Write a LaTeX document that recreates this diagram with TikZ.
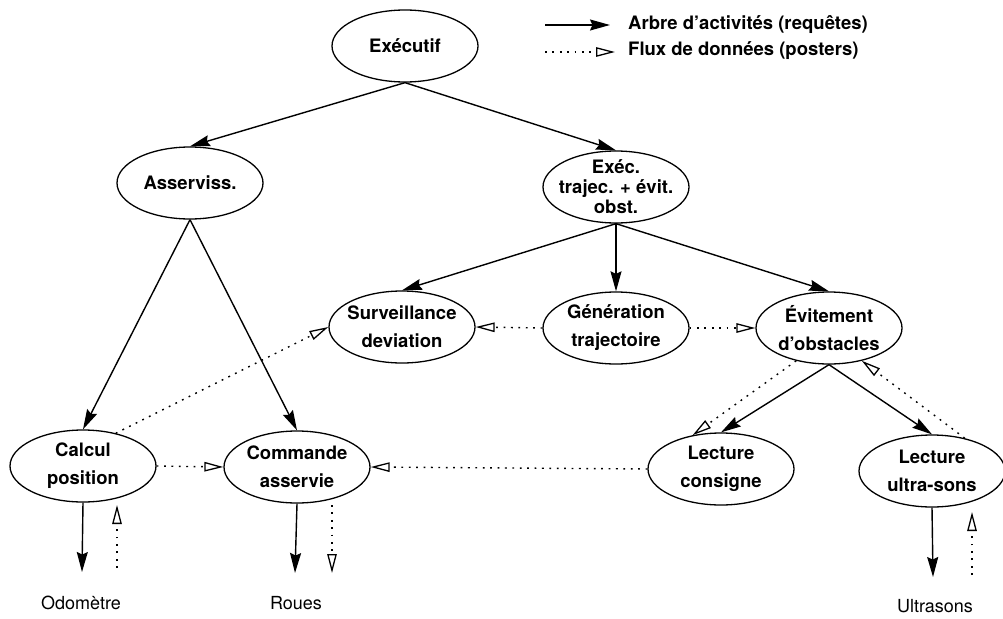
\documentclass[tikz,border=0pt]{standalone}
\usepackage{fontspec}
\setmainfont{TeX Gyre Heros}
\usetikzlibrary{shapes.geometric,arrows.meta}

\tikzset{
  activity/.style={draw, line width=1.3pt, shape=ellipse,
    minimum width=146pt, minimum height=72pt,
    inner xsep=-15pt, inner ysep=-15pt, align=center,
    font=\fontsize{18.5}{22}\selectfont\bfseries},
  device/.style={inner sep=0pt, font=\fontsize{18}{22}\selectfont},
  legendtext/.style={anchor=west, inner sep=0pt,
    font=\fontsize{18.5}{22}\selectfont\bfseries},
  request/.style={line width=1.4pt,
    -{Stealth[length=20pt,width=11pt,inset=2.5pt]}},
  poster/.style={line width=1.4pt, dash pattern=on 1.8pt off 5.6pt,
    -{Triangle[open,length=19pt,width=9.5pt,line width=1.3pt]}},
}

\begin{document}
\begin{tikzpicture}[x=1pt,y=-1pt]
  \useasboundingbox (0,0) rectangle (1003,618);

  % activity tree
  \node[activity] (exec)   at (405,46)  {Exécutif};
  \node[activity] (asserv) at (190,183) {Asserviss.};
  \node[activity] (traj)   at (616,187) {Exéc.\\[-2pt]trajec. + évit.\\[-2pt]obst.};
  \node[activity] (surv)   at (402,327) {Surveillance\\[6pt]deviation};
  \node[activity] (gen)    at (616,328) {Génération\\[6pt]trajectoire};
  \node[activity] (evit)   at (829,328) {Évitement\\[6pt]d'obstacles};
  \node[activity] (calc)   at (83,466)  {Calcul\\[6pt]position};
  \node[activity] (cmd)    at (297,467) {Commande\\[6pt]asservie};
  \node[activity] (lcons)  at (721,469) {Lecture\\[6pt]consigne};
  \node[activity] (lus)    at (932,471) {Lecture\\[6pt]ultra-sons};

  % devices
  \node[device] (odo) at (81,603)  {Odomètre};
  \node[device] (roues) at (296,603) {Roues};
  \node[device] (ultra) at (935,606) {Ultrasons};

  % requests
  \draw[request] (exec.south) -- (asserv.north);
  \draw[request] (exec.south) -- (traj.north);
  \draw[request] (asserv.south) -- (calc.north);
  \draw[request] (asserv.south) -- (cmd.north);
  \draw[request] (traj.south) -- (surv.north);
  \draw[request] (traj.south) -- (gen.north);
  \draw[request] (traj.south) -- (evit.north);
  \draw[request] (evit.south) -- (lcons.north);
  \draw[request] (evit.south) -- (lus.north);

  % posters between activities
  \draw[poster] (calc.45) -- (surv.west);
  \draw[poster] (calc.east) -- (cmd.west);
  \draw[poster] (lcons.west) -- (cmd.east);
  \draw[poster] (gen.west) -- (surv.east);
  \draw[poster] (gen.east) -- (evit.west);
  \draw[poster] (evit.225) -- (lcons.130);
  \draw[poster] (lus.45) -- (evit.315);

  % links with the devices
  \coordinate (odoReq) at (82,572);
  \coordinate (odoOut) at (117,568);
  \coordinate (odoIn)  at (117,505);
  \coordinate (rouReq) at (295,573);
  \coordinate (rouOut) at (332,505);
  \coordinate (rouIn)  at (332,573);
  \coordinate (ultReq) at (933,577);
  \coordinate (ultOut) at (972,575);
  \coordinate (ultIn)  at (972,512);
  \draw[request] (calc.south) -- (odoReq);
  \draw[poster] (odoOut) -- (odoIn);
  \draw[request] (cmd.south) -- (rouReq);
  \draw[poster] (rouOut) -- (rouIn);
  \draw[request] (lus.south) -- (ultReq);
  \draw[poster] (ultOut) -- (ultIn);

  % legend
  \coordinate (legA0) at (545,25);
  \coordinate (legA1) at (610,25);
  \coordinate (legB0) at (545,52);
  \coordinate (legB1) at (615,52);
  \draw[request] (legA0) -- (legA1);
  \draw[poster] (legB0) -- (legB1);
  \node[legendtext] (legA) at (628,25) {Arbre d'activités (requêtes)};
  \node[legendtext] (legB) at (628,51) {Flux de données (posters)};
\end{tikzpicture}
\end{document}
